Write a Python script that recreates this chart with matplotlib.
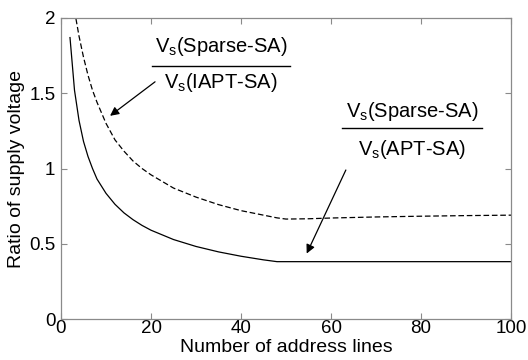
import matplotlib
matplotlib.use("Agg")
import matplotlib.pyplot as plt
from matplotlib.lines import Line2D

plt.rcParams['font.family'] = ['Liberation Sans', 'DejaVu Sans']
plt.rcParams['mathtext.fontset'] = 'custom'
plt.rcParams['mathtext.rm'] = 'Liberation Sans'
plt.rcParams['mathtext.it'] = 'Liberation Sans'

# Sparse-SA / APT-SA (solid)
x_apt = [2, 3, 4, 5, 6, 7, 8, 10, 12, 14, 16, 18, 20, 25, 30, 35, 40, 45, 48, 60, 80, 100]
y_apt = [1.87, 1.52, 1.32, 1.18, 1.08, 1.00, 0.93, 0.835, 0.762, 0.705, 0.66, 0.622, 0.59,
         0.528, 0.482, 0.446, 0.417, 0.393, 0.381, 0.381, 0.381, 0.381]

# Sparse-SA / IAPT-SA (dashed)
x_iapt = [3, 4, 5, 6, 7, 8, 10, 12, 14, 16, 18, 20, 25, 30, 35, 40, 45, 48, 50, 55, 60, 70, 80, 90, 100]
y_iapt = [2.05, 1.88, 1.74, 1.62, 1.52, 1.44, 1.30, 1.19, 1.115, 1.05, 1.0, 0.958, 0.87, 0.81,
          0.76, 0.72, 0.69, 0.672, 0.664, 0.666, 0.671, 0.678, 0.683, 0.687, 0.69]

xticks = [0, 20, 40, 60, 80, 100]
yticks = [0, 0.5, 1, 1.5, 2]
ytick_labels = ['0', '0.5', '1', '1.5', '2']

fig = plt.figure(figsize=(5.28, 3.6), dpi=100)
ax = fig.add_axes([61/528, 1-319/360, 450/528, 301/360])

ax.plot(x_apt, y_apt, color='black', lw=0.9, solid_joinstyle='round')
ax.plot(x_iapt, y_iapt, color='black', lw=0.9, linestyle=(0, (4.5, 2.2)))

ax.set_xlim(0, 100)
ax.set_ylim(0, 2)
ax.set_xticks(xticks)
ax.set_yticks(yticks)
ax.set_yticklabels(ytick_labels)

for s in ax.spines.values():
    s.set_color('#8a8a8a')
    s.set_linewidth(0.9)
ax.tick_params(direction='in', length=4, width=0.8, color='#8a8a8a',
               top=True, right=True, labelsize=13.5, labelcolor='black')
ax.tick_params(axis='x', pad=1)
ax.tick_params(axis='y', pad=4)

ax.set_xlabel('Number of address lines', fontsize=14, labelpad=1)
ax.set_ylabel('Ratio of supply voltage', fontsize=14, labelpad=3)

fs = 14.5
# upper fraction (IAPT)
ax.text(35.6, 1.775, r'V$_\mathregular{s}$(Sparse-SA)', fontsize=fs, ha='center', va='baseline')
ax.add_line(Line2D([20.2, 50.9], [1.678, 1.678], color='black', lw=1.0))
ax.text(35.6, 1.536, r'V$_\mathregular{s}$(IAPT-SA)', fontsize=fs, ha='center', va='baseline')
ax.annotate('', xy=(10.9, 1.35), xytext=(20.9, 1.576),
            arrowprops=dict(arrowstyle='-|>', color='black', lw=0.9,
                            mutation_scale=13, shrinkA=0, shrinkB=0))

# lower fraction (APT)
ax.text(78.0, 1.343, r'V$_\mathregular{s}$(Sparse-SA)', fontsize=fs, ha='center', va='baseline')
ax.add_line(Line2D([62.4, 93.6], [1.27, 1.27], color='black', lw=1.0))
ax.text(78.0, 1.09, r'V$_\mathregular{s}$(APT-SA)', fontsize=fs, ha='center', va='baseline')
ax.annotate('', xy=(54.6, 0.435), xytext=(63.3, 0.99),
            arrowprops=dict(arrowstyle='-|>', color='black', lw=0.9,
                            mutation_scale=13, shrinkA=0, shrinkB=0))

fig.savefig('out.png', dpi=100)
